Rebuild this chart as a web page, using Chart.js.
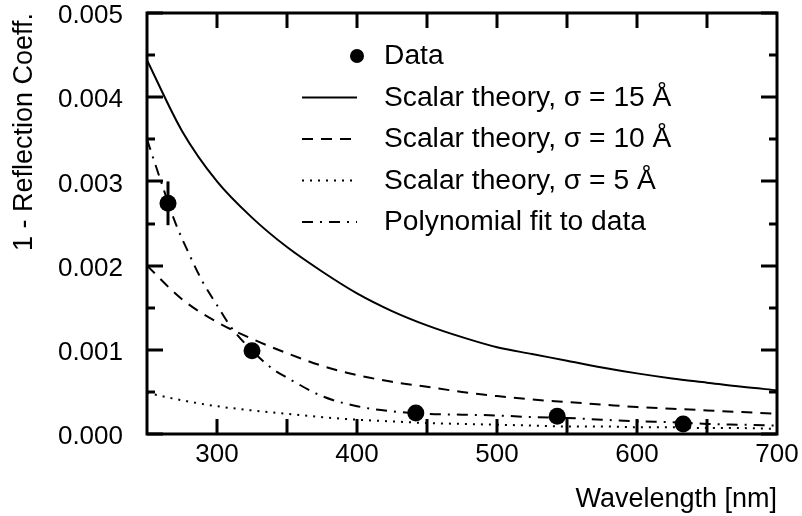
<!DOCTYPE html>
<html>
<head>
<meta charset="utf-8">
<script src="https://cdn.jsdelivr.net/npm/chart.js@4/dist/chart.umd.min.js"></script>
<style>
html, body { margin: 0; padding: 0; background: #fff; }
#wrap { width: 802px; height: 516px; }
</style>
</head>
<body>
<div id="wrap"><canvas id="chart"></canvas></div>
<script>
// measured points
var dataX = [265, 325, 442, 543, 633];
var dataY = [0.00274, 0.00099, 0.00025, 0.00021, 0.00012];
var dataErr = [0.00026, 0.00005, 0.00003, 0.00003, 0.00003];

// scalar theory curves
var theoryX = [250, 275, 300, 325, 350, 375, 400, 425, 450, 475, 500, 525, 550, 575, 600, 625, 650, 675, 700];
var sigma15 = [0.00444, 0.0036, 0.003, 0.00257, 0.00222, 0.00193, 0.00167, 0.00146, 0.00129, 0.00115, 0.00103, 0.00095, 0.00087, 0.00079, 0.00072, 0.00066, 0.00061, 0.00056, 0.00052];
var sigma10 = [0.002, 0.0016, 0.00133, 0.00113, 0.00096, 0.00081, 0.0007, 0.00062, 0.00056, 0.0005, 0.00045, 0.00041, 0.00038, 0.00035, 0.00032, 0.0003, 0.00028, 0.00026, 0.00024];
var sigma5 = [0.00049, 0.0004, 0.00033, 0.00028, 0.00024, 0.0002, 0.00017, 0.00015, 0.00013, 0.00012, 0.00011, 0.0001, 0.00009, 0.00009, 0.00008, 0.00008, 0.00007, 0.00007, 0.00006];

// polynomial fit
var polyX = [250, 260, 270, 280, 290, 300, 310, 325, 340, 350, 375, 400, 425, 450, 475, 500, 525, 550, 575, 600, 625, 650, 675, 700];
var polyY = [0.0035, 0.003, 0.00252, 0.00214, 0.0018, 0.00153, 0.00127, 0.00099, 0.00077, 0.00067, 0.00045, 0.00033, 0.00027, 0.00024, 0.00023, 0.00022, 0.0002, 0.00019, 0.00017, 0.00015, 0.00014, 0.00012, 0.00011, 0.0001];

var labels = ["Data", "Scalar theory, \u03c3 = 15 \u00c5", "Scalar theory, \u03c3 = 10 \u00c5", "Scalar theory, \u03c3 = 5 \u00c5", "Polynomial fit to data"];

var xTicks = [300, 400, 500, 600, 700];
var xTickMarks = [300, 350, 400, 450, 500, 550, 600, 650];
var yTicks = [0, 0.001, 0.002, 0.003, 0.004, 0.005];
var yMinorTicks = [0.0005, 0.0015, 0.0025, 0.0035, 0.0045];

function pts(xs, ys) {
    var out = [];
    for (var i = 0; i < xs.length; i++) out.push({ x: xs[i], y: ys[i] });
    return out;
}

function lineSet(label, xs, ys, dash) {
    return {
        label: label,
        data: pts(xs, ys),
        borderColor: "#000",
        borderWidth: 2,
        borderDash: dash,
        pointRadius: 0,
        fill: false,
        cubicInterpolationMode: "monotone"
    };
}

var FONT = "'Liberation Sans', Arial, Helvetica, sans-serif";

// error bars under the markers
var errorBars = {
    id: "errorBars",
    beforeDatasetsDraw: function(chart) {
        var ctx = chart.ctx, xs = chart.scales.x, ys = chart.scales.y;
        ctx.save();
        ctx.strokeStyle = "#000";
        ctx.lineWidth = 3;
        for (var i = 0; i < dataX.length; i++) {
            var px = xs.getPixelForValue(dataX[i]);
            ctx.beginPath();
            ctx.moveTo(px, ys.getPixelForValue(dataY[i] - dataErr[i]));
            ctx.lineTo(px, ys.getPixelForValue(dataY[i] + dataErr[i]));
            ctx.stroke();
        }
        ctx.restore();
    }
};

// box with inward ticks on all four sides
var frame = {
    id: "frame",
    afterDatasetsDraw: function(chart) {
        var ctx = chart.ctx, a = chart.chartArea, xs = chart.scales.x, ys = chart.scales.y;
        ctx.save();
        ctx.strokeStyle = "#000";
        ctx.lineWidth = 3;
        ctx.lineCap = "square";
        ctx.strokeRect(a.left, a.top, a.right - a.left, a.bottom - a.top);
        ctx.lineCap = "butt";
        ctx.beginPath();
        xTickMarks.forEach(function(v) {
            var px = Math.round(xs.getPixelForValue(v));
            ctx.moveTo(px, a.bottom); ctx.lineTo(px, a.bottom - 15);
            ctx.moveTo(px, a.top); ctx.lineTo(px, a.top + 15);
        });
        yTicks.forEach(function(v) {
            var py = Math.round(ys.getPixelForValue(v));
            ctx.moveTo(a.left, py); ctx.lineTo(a.left + 16, py);
            ctx.moveTo(a.right, py); ctx.lineTo(a.right - 16, py);
        });
        yMinorTicks.forEach(function(v) {
            var py = Math.round(ys.getPixelForValue(v));
            ctx.moveTo(a.left, py); ctx.lineTo(a.left + 8, py);
            ctx.moveTo(a.right, py); ctx.lineTo(a.right - 8, py);
        });
        ctx.stroke();
        ctx.restore();
    }
};

// legend inside the plot
var innerLegend = {
    id: "innerLegend",
    afterDraw: function(chart) {
        var ctx = chart.ctx;
        var order = [4, 0, 1, 2, 3];
        var x0 = 302, x1 = 357, tx = 384, y0 = 56, step = 41.5;
        ctx.save();
        ctx.font = "27px " + FONT;
        ctx.fillStyle = "#000";
        ctx.strokeStyle = "#000";
        ctx.textBaseline = "middle";
        order.forEach(function(di, row) {
            var ds = chart.data.datasets[di];
            var y = y0 + row * step;
            if (ds.showLine === false) {
                ctx.beginPath();
                ctx.arc(x1, y, 7, 0, Math.PI * 2);
                ctx.fill();
            } else {
                ctx.lineWidth = 2;
                ctx.setLineDash(ds.borderDash || []);
                ctx.beginPath();
                ctx.moveTo(x0, y);
                ctx.lineTo(x1, y);
                ctx.stroke();
                ctx.setLineDash([]);
            }
            // the original lettering is a little wider than Liberation Sans
            ctx.save();
            ctx.translate(tx, y + 1);
            ctx.scale(1.045, 1);
            ctx.fillText(ds.label, 0, 0);
            ctx.restore();
        });
        ctx.restore();
    }
};

new Chart(document.getElementById("chart"), {
    type: "line",
    data: {
        datasets: [
            lineSet(labels[1], theoryX, sigma15, []),
            lineSet(labels[2], theoryX, sigma10, [11, 8]),
            lineSet(labels[3], theoryX, sigma5, [2, 6]),
            lineSet(labels[4], polyX, polyY, [11, 7, 2, 7]),
            {
                label: labels[0],
                data: pts(dataX, dataY),
                showLine: false,
                pointRadius: 8.5,
                pointBackgroundColor: "#000",
                pointBorderColor: "#000",
                pointBorderWidth: 0
            }
        ]
    },
    options: {
        responsive: true,
        maintainAspectRatio: false,
        animation: false,
        devicePixelRatio: 1,
        layout: { padding: { top: 13, right: 25, left: 0, bottom: 0 } },
        plugins: { legend: { display: false }, tooltip: { enabled: false } },
        scales: {
            x: {
                type: "linear",
                min: 250,
                max: 700,
                grid: { display: false, drawTicks: false },
                border: { display: false },
                afterBuildTicks: function(scale) {
                    scale.ticks = xTicks.map(function(v) { return { value: v }; });
                },
                afterFit: function(scale) {
                    scale.height = 82;
                    scale.paddingLeft = 0;
                    scale.paddingRight = 0;
                },
                ticks: {
                    color: "#000",
                    padding: 5,
                    maxRotation: 0,
                    font: { family: FONT, size: 26 }
                },
                title: {
                    display: true,
                    text: "Wavelength [nm]",
                    align: "end",
                    color: "#000",
                    padding: 0,
                    font: { family: FONT, size: 27 }
                }
            },
            y: {
                type: "linear",
                min: 0,
                max: 0.005,
                grid: { display: false, drawTicks: false },
                border: { display: false },
                afterBuildTicks: function(scale) {
                    scale.ticks = yTicks.map(function(v) { return { value: v }; });
                },
                afterFit: function(scale) {
                    scale.width = 147;
                    scale.paddingTop = 0;
                    scale.paddingBottom = 0;
                },
                ticks: {
                    color: "#000",
                    padding: 24,
                    labelOffset: 3,
                    font: { family: FONT, size: 26, lineHeight: 1 },
                    callback: function(v) { return v.toFixed(3); }
                },
                title: {
                    display: true,
                    text: "1 - Reflection Coeff.",
                    align: "end",
                    color: "#000",
                    padding: { top: 8, bottom: 0 },
                    font: { family: FONT, size: 27 }
                }
            }
        }
    },
    plugins: [errorBars, frame, innerLegend]
});
</script>
</body>
</html>
